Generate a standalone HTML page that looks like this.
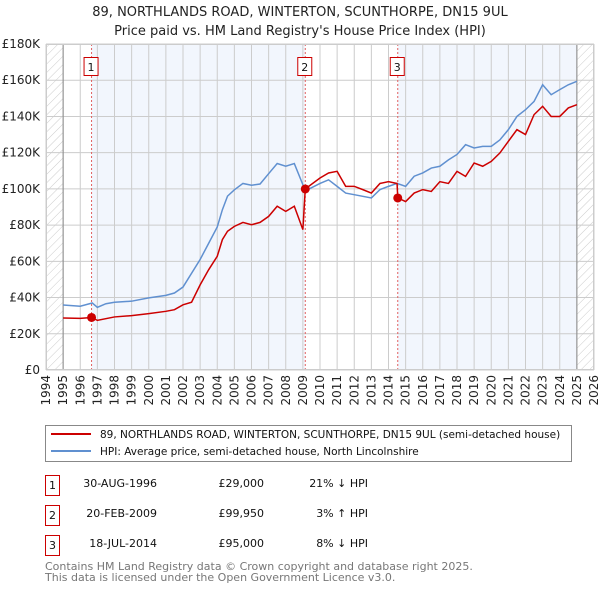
<!DOCTYPE html>
<html><head><meta charset="utf-8"><style>
body{margin:0;background:#fff;font-family:"DejaVu Sans","Liberation Sans",sans-serif;}
svg text{font-family:"DejaVu Sans","Liberation Sans",sans-serif;}
</style></head><body>
<svg id="c" width="600" height="590" xmlns="http://www.w3.org/2000/svg">
<defs><pattern id="hatch" width="6" height="6" patternUnits="userSpaceOnUse" patternTransform="rotate(45)"><line x1="0" y1="0" x2="0" y2="6" stroke="#ccc" stroke-width="1"/></pattern></defs>
<text x="300" y="16" text-anchor="middle" font-size="13" fill="#222">89, NORTHLANDS ROAD, WINTERTON, SCUNTHORPE, DN15 9UL</text>
<text x="300" y="35" text-anchor="middle" font-size="13" fill="#222">Price paid vs. HM Land Registry's House Price Index (HPI)</text>
<g id="plot"></g>
<g>
<rect x="45.5" y="425.5" width="526" height="36" fill="#fff" stroke="#888"/>
<line x1="51" y1="434" x2="91" y2="434" stroke="#cc0000" stroke-width="2"/>
<text x="100" y="438" font-size="10.5" fill="#111">89, NORTHLANDS ROAD, WINTERTON, SCUNTHORPE, DN15 9UL (semi-detached house)</text>
<line x1="51" y1="451" x2="91" y2="451" stroke="#6090d0" stroke-width="2"/>
<text x="100" y="455" font-size="10.5" fill="#111">HPI: Average price, semi-detached house, North Lincolnshire</text>
</g>
<g font-size="11" fill="#111">
<rect x="45.5" y="475.5" width="14" height="20" fill="#fff" stroke="#cc0000"/><text x="52.5" y="489" text-anchor="middle">1</text>
<text x="157" y="487" text-anchor="end">30-AUG-1996</text><text x="264" y="487" text-anchor="end">£29,000</text><text x="368" y="487" text-anchor="end">21% ↓ HPI</text>
<rect x="45.5" y="505.5" width="14" height="20" fill="#fff" stroke="#cc0000"/><text x="52.5" y="519" text-anchor="middle">2</text>
<text x="157" y="517" text-anchor="end">20-FEB-2009</text><text x="264" y="517" text-anchor="end">£99,950</text><text x="368" y="517" text-anchor="end">3% ↑ HPI</text>
<rect x="45.5" y="535.5" width="14" height="20" fill="#fff" stroke="#cc0000"/><text x="52.5" y="549" text-anchor="middle">3</text>
<text x="157" y="547" text-anchor="end">18-JUL-2014</text><text x="264" y="547" text-anchor="end">£95,000</text><text x="368" y="547" text-anchor="end">8% ↓ HPI</text>
</g>
<text x="45" y="570" font-size="11" fill="#777">Contains HM Land Registry data © Crown copyright and database right 2025.</text>
<text x="45" y="581" font-size="11" fill="#777">This data is licensed under the Open Government Licence v3.0.</text>
</svg>
<script>
const hpiYears=[1995,1996,1996.7,1997,1997.5,1998,1999,2000,2001,2001.5,2002,2003,2003.5,2004,2004.3,2004.6,2005,2005.5,2006,2006.5,2007,2007.5,2008,2008.5,2009,2009.2,2010,2010.5,2011,2011.5,2012,2013,2013.5,2014,2014.5,2015,2015.5,2016,2016.5,2017,2017.5,2018,2018.5,2019,2019.5,2020,2020.5,2021,2021.5,2022,2022.5,2023,2023.5,2024,2024.5,2025];
const hpiValues=[35.9,35.2,37,34.6,36.6,37.4,38,39.8,41.2,42.5,45.8,61,70,79,88.5,96,99.5,103,102,102.7,108.4,114,112.5,114,102.3,99.2,103,105,101.4,97.7,96.8,95,99.6,101.4,103,101.4,107,108.8,111.5,112.5,116,119,124.4,122.6,123.5,123.5,127,132.7,140,143.7,148.3,157.5,152,154.8,157.5,159.4];
const priceYears=[1995,1996,1996.66,1997,1998,1999,2000,2001,2001.5,2002,2002.5,2003,2003.5,2004,2004.3,2004.6,2005,2005.5,2006,2006.5,2007,2007.5,2008,2008.5,2009,2009.14,2010,2010.5,2011,2011.5,2012,2012.5,2013,2013.5,2014,2014.5,2014.54,2015,2015.5,2016,2016.5,2017,2017.5,2018,2018.5,2019,2019.5,2020,2020.5,2021,2021.5,2022,2022.5,2023,2023.5,2024,2024.5,2025];
const priceValues=[28.7,28.5,29,27.4,29.3,30,31.1,32.4,33.3,36,37.4,47,55.4,62.8,72,76.6,79.3,81.5,80.2,81.5,84.8,90.4,87.6,90.4,77.5,100,106,108.8,109.7,101.4,101.4,99.6,97.7,103,104,103,95,93,97.7,99.6,98.6,104,103,109.7,106.9,114.3,112.5,115.2,119.8,126.3,132.7,130,141,145.6,140,140,144.7,146.5];
const saleYears=[1996.66,2009.14,2014.54];
const saleValues=[29,99.95,95];
const saleLabels=["1","2","3"];
const yTicks=[0,20,40,60,80,100,120,140,160,180];
const yTickLabels=["£0","£20K","£40K","£60K","£80K","£100K","£120K","£140K","£160K","£180K"];
const xTicks=[1994,1995,1996,1997,1998,1999,2000,2001,2002,2003,2004,2005,2006,2007,2008,2009,2010,2011,2012,2013,2014,2015,2016,2017,2018,2019,2020,2021,2022,2023,2024,2025,2026];

const L=46,R=594,T=44,B=370,X0=1994,X1=2026;
const x=v=>L+(v-X0)/(X1-X0)*(R-L);
const y=v=>B-v/180*(B-T);
const NS="http://www.w3.org/2000/svg";
const g=document.getElementById('plot');
function mk(tag,attrs,parent){const e=document.createElementNS(NS,tag);for(const k in attrs)e.setAttribute(k,attrs[k]);(parent||g).appendChild(e);return e;}
let b=mk('rect',{x:x(saleYears[0]),y:T,width:x(saleYears[1])-x(saleYears[0]),height:B-T,fill:'#f2f6fd'});


b=mk('rect',{x:x(saleYears[2]),y:T,width:x(2025)-x(saleYears[2]),height:B-T,fill:'#f2f6fd'});


b=mk('rect',{x:L,y:T,width:x(1995)-L,height:B-T,fill:'url(#hatch)'});


b=mk('rect',{x:x(2025),y:T,width:R-x(2025),height:B-T,fill:'url(#hatch)'});


yTicks.forEach((v,i)=>{
 const l=mk('line',{x1:L,x2:R,y1:y(v),y2:y(v),stroke:'#ccc'});
 
 
 const t=mk('text',{x:L-6,y:y(v)+4,'text-anchor':'end','font-size':12,fill:'#222'});
 t.textContent=yTickLabels[i];
 
 
});
xTicks.forEach(v=>{
 const l=mk('line',{x1:x(v),x2:x(v),y1:T,y2:B,stroke:'#ccc'});
 
 
 const t=mk('text',{x:0,y:0,'text-anchor':'end','font-size':12,fill:'#222',transform:`translate(${x(v)+4},375) rotate(-90)`});
 t.textContent=v;
 
 
});
let a=mk('line',{x1:x(1995),x2:x(1995),y1:T,y2:B,stroke:'#888'});


a=mk('line',{x1:x(2025),x2:x(2025),y1:T,y2:B,stroke:'#888'});


saleYears.forEach((v,i)=>{
 const l=mk('line',{x1:x(v),x2:x(v),y1:T,y2:B,stroke:'#e06060','stroke-dasharray':'2,2'});
 
 
 const r=mk('rect',{x:x(v)-7.5,y:57.5,width:14,height:18,fill:'#fff',stroke:'#cc0000'});
 
 
 const t=mk('text',{x:x(v)-0.5,y:71,'text-anchor':'middle','font-size':11,fill:'#111'});
 t.textContent=saleLabels[i];
 
 
});
const hp=mk('polyline',{points:hpiYears.map((v,i)=>x(v)+','+y(hpiValues[i])).join(' '),fill:'none',stroke:'#6090d0','stroke-width':1.5});


const pp=mk('polyline',{points:priceYears.map((v,i)=>x(v)+','+y(priceValues[i])).join(' '),fill:'none',stroke:'#cc0000','stroke-width':1.5});


saleYears.forEach((v,i)=>{
 const c=mk('circle',{cx:x(v),cy:y(saleValues[i]),r:4.5,fill:'#cc0000'});
 
 
});
const fr=mk('rect',{x:L+0.5,y:T+0.5,width:R-L-1,height:B-T-1,fill:'none',stroke:'#ccc'});


</script>
</body></html>
